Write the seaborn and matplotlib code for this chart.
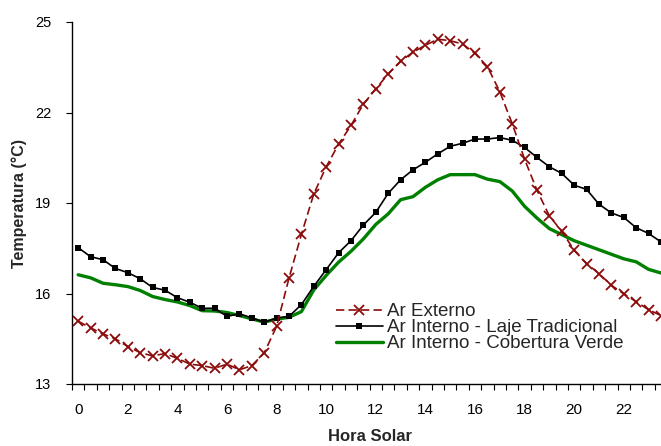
import numpy as np
import pandas as pd
import matplotlib
matplotlib.use("Agg")
import matplotlib.pyplot as plt
import seaborn as sns
from matplotlib.ticker import FixedLocator

sns.set_style("white")
plt.rcParams["font.family"] = ["Liberation Sans", "DejaVu Sans"]

hours = np.arange(0, 24, 0.5)

ar_externo = [15.08, 14.86, 14.66, 14.50, 14.24, 14.04, 13.93, 14.01, 13.85, 13.66,
              13.61, 13.52, 13.66, 13.47, 13.61, 14.03, 14.91, 16.51, 17.96, 19.30,
              20.20, 20.95, 21.57, 22.28, 22.78, 23.28, 23.70, 24.00, 24.23, 24.43,
              24.38, 24.27, 23.96, 23.52, 22.69, 21.63, 20.45, 19.42, 18.57, 18.06,
              17.43, 16.99, 16.66, 16.27, 15.99, 15.73, 15.46, 15.27]

laje_tradicional = [17.52, 17.22, 17.12, 16.83, 16.69, 16.49, 16.20, 16.11, 15.86, 15.71,
                    15.51, 15.51, 15.24, 15.33, 15.19, 15.05, 15.19, 15.24, 15.63, 16.24,
                    16.79, 17.35, 17.75, 18.27, 18.69, 19.32, 19.77, 20.10, 20.35, 20.63,
                    20.88, 20.98, 21.12, 21.12, 21.17, 21.08, 20.84, 20.51, 20.20, 19.98,
                    19.59, 19.45, 18.96, 18.67, 18.52, 18.18, 17.99, 17.71]

cobertura_verde = [16.62, 16.52, 16.34, 16.29, 16.23, 16.10, 15.90, 15.80, 15.72, 15.60,
                   15.43, 15.42, 15.37, 15.27, 15.16, 15.05, 15.15, 15.21, 15.40, 16.12,
                   16.60, 17.04, 17.40, 17.81, 18.29, 18.64, 19.11, 19.21, 19.52, 19.77,
                   19.94, 19.94, 19.94, 19.79, 19.71, 19.40, 18.89, 18.50, 18.15, 17.95,
                   17.75, 17.60, 17.45, 17.30, 17.15, 17.05, 16.80, 16.68]

labels = ["Ar Externo", "Ar Interno - Laje Tradicional", "Ar Interno - Cobertura Verde"]
xtick_labels = ["0", "2", "4", "6", "8", "10", "12", "14", "16", "18", "20", "22"]
yticks = [13, 16, 19, 22, 25]

W, H = 661, 446
fig = plt.figure(figsize=(W / 100, H / 100), dpi=100)
fig.patch.set_facecolor("white")
ax_left, ax_right = 72, 72 + 24 * 24.8
ax_top, ax_bottom = 22, 384
ax = fig.add_axes([ax_left / W, (H - ax_bottom) / H, (ax_right - ax_left) / W, (ax_bottom - ax_top) / H])

red = "#8B0A0A"
sns.lineplot(x=hours, y=cobertura_verde, ax=ax, color="#008000", linewidth=2.4,
             label=labels[2], zorder=2)
sns.lineplot(x=hours, y=laje_tradicional, ax=ax, color="black", linewidth=1.2,
             marker="s", markersize=5, markeredgewidth=0, markerfacecolor="black",
             label=labels[1], zorder=3)
sns.lineplot(x=hours, y=ar_externo, ax=ax, color=red, linewidth=1.2,
             linestyle=(0, (5, 2.5)), marker="x", markersize=7.5, markeredgewidth=1.3,
             markeredgecolor=red, markerfacecolor=red, label=labels[0], zorder=4)

ax.set_xlim(-0.25, 23.75)
ax.set_ylim(13, 25)
ax.set_yticks(yticks)
ax.set_yticklabels([str(v) for v in yticks])
ax.set_xticks(np.arange(0, 24, 2))
ax.set_xticklabels(xtick_labels)
ax.xaxis.set_minor_locator(FixedLocator(np.arange(-0.25, 24, 0.5)))

for s in ["top", "right"]:
    ax.spines[s].set_visible(False)
for s in ["left", "bottom"]:
    ax.spines[s].set_color("black")
    ax.spines[s].set_linewidth(1.0)

ax.tick_params(axis="x", which="major", length=0, pad=14, labelsize=11, colors="black")
ax.tick_params(axis="x", which="minor", length=4, width=0.8, direction="out", bottom=True, color="black")
ax.tick_params(axis="y", which="major", length=4, width=0.8, direction="out", left=True,
               pad=11, labelsize=10.5, colors="black")

ax.set_xlabel("Hora Solar", fontsize=12, fontweight="bold", labelpad=8)
ax.set_ylabel("Temperatura (°C)", fontsize=11.5, fontweight="bold", labelpad=6)
ax.grid(False)

handles, lbls = ax.get_legend_handles_labels()
order = [lbls.index(l) for l in labels]
leg = ax.legend([handles[i] for i in order], [lbls[i] for i in order],
                loc="upper left", bbox_to_anchor=((336 - ax_left) / (ax_right - ax_left),
                                                  (ax_bottom - 303) / (ax_bottom - ax_top)),
                frameon=False, fontsize=13.5, labelspacing=-0.05, handlelength=2.5,
                handletextpad=0.2, borderaxespad=0, borderpad=0)

fig.savefig("out.png", dpi=100, facecolor="white")
